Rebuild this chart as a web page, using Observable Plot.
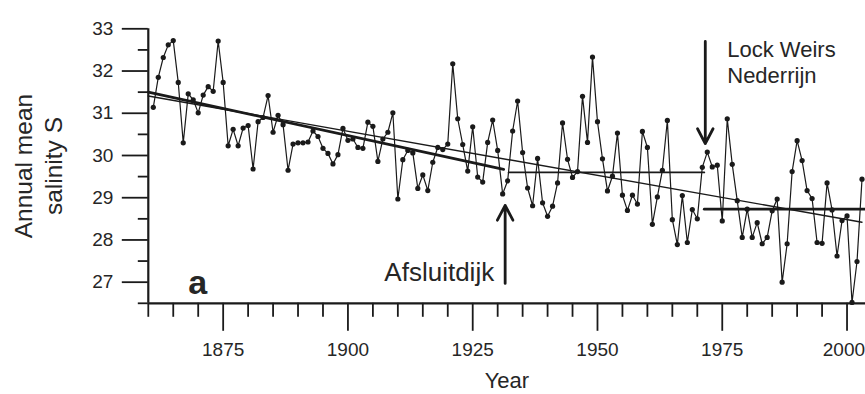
<!DOCTYPE html>
<html><head><meta charset="utf-8">
<script src="https://cdn.jsdelivr.net/npm/d3@7"></script>
<script src="https://cdn.jsdelivr.net/npm/@observablehq/plot@0.6"></script>
<style>html,body{margin:0;padding:0;background:#fff;overflow:hidden}</style>
</head><body><div id="chart"></div>
<script>
const firstYear = 1861;
const salinity = [
  31.14, 31.85, 32.32, 32.62, 32.72, 31.73, 30.30, 31.46, 31.32, 31.01,
  31.43, 31.63, 31.52, 32.71, 31.73, 30.23, 30.62, 30.23, 30.65, 30.71,
  29.68, 30.80, 30.90, 31.42, 30.55, 30.95, 30.73, 29.65, 30.27, 30.30,
  30.30, 30.32, 30.58, 30.45, 30.17, 30.05, 29.80, 30.02, 30.64, 30.36,
  30.39, 30.19, 30.17, 30.79, 30.69, 29.86, 30.39, 30.55, 31.01, 28.97,
  29.90, 30.12, 30.06, 29.22, 29.54, 29.17, 29.84, 30.19, 30.14, 30.27,
  32.17, 30.87, 30.26, 29.63, 30.68, 29.49, 29.37, 30.31, 30.84, 30.12,
  29.09, 29.40, 30.58, 31.29, 30.07, 29.23, 28.81, 29.93, 28.88, 28.56,
  28.80, 29.35, 30.77, 29.91, 29.48, 29.62, 31.40, 30.31, 32.33, 30.80,
  29.92, 29.16, 29.51, 30.53, 29.06, 28.70, 29.06, 28.85, 30.57, 30.19,
  28.37, 29.02, 29.65, 30.83, 28.48, 27.89, 29.05, 27.94, 28.72, 28.50,
  29.72, 30.08, 29.73, 29.77, 28.45, 30.87, 29.79, 28.93, 28.06, 28.73,
  28.06, 28.41, 27.91, 28.06, 28.69, 28.97, 27.00, 27.91, 29.62, 30.35,
  29.88, 29.17, 28.98, 27.94, 27.92, 29.35, 28.71, 27.62, 28.46, 28.57,
  26.52, 27.49, 29.44
];
const years = salinity.map((_, i) => firstYear + i);

// fitted lines / period means
const fitPreYears = [1860, 1931.2];
const fitPreValues = [31.50, 29.67];
const fitAllYears = [1860, 2003];
const fitAllValues = [31.41, 28.42];
const meanMidYears = [1932.2, 1971.4];
const meanMidValues = [29.60, 29.60];
const meanPostYears = [1971.4, 2003.7];
const meanPostValues = [28.73, 28.73];

// axes
const yearDomain = [1860, 2003.7];
const salDomain = [26.5, 33];
const majorYearTicks = [1875, 1900, 1925, 1950, 1975, 2000];
const minorYearTicks = [1860, 1865, 1870, 1880, 1885, 1890, 1895, 1905, 1910, 1915, 1920, 1930, 1935, 1940, 1945, 1955, 1960, 1965, 1970, 1980, 1985, 1990, 1995];
const majorSalTicks = [27, 28, 29, 30, 31, 32, 33];
const minorSalTicks = [26.5, 27.5, 28.5, 29.5, 30.5, 31.5, 32.5];

// annotations
const eventLabels = ["Afsluitdijk", "Lock Weirs\nNederrijn"];
const eventYears = [1931.5, 1971.6];
const arrowFrom = [26.97, 32.70];
const arrowTo = [28.82, 30.28];
const labelYears = [1929.3, 1976.0];
const labelValues = [27.02, 31.72];
const labelAnchors = ["end", "start"];
const panelLetter = "a";
const panelYear = 1868.0;
const panelValue = 26.73;

const series = years.map((year, i) => ({year, s: salinity[i]}));
const seg = (xs, ys) => xs.map((x, i) => ({x, y: ys[i]}));
const events = eventLabels.map((label, i) => ({
  label, year: eventYears[i], from: arrowFrom[i], to: arrowTo[i],
  lx: labelYears[i], ly: labelValues[i], anchor: labelAnchors[i]
}));
const lastTick = majorYearTicks[majorYearTicks.length - 1];

const ink = "#1a1a1a";
const textInk = "#262626";
const font = "Liberation Sans, Arial, Helvetica, sans-serif";

const chart = Plot.plot({
  width: 865,
  height: 394,
  marginLeft: 147.8,
  marginRight: 0,
  marginTop: 28.3,
  marginBottom: 91.2,
  style: {fontFamily: font, fontSize: "20px", color: ink, background: "white"},
  x: {domain: yearDomain},
  y: {domain: salDomain},
  marks: [
    // axes
    Plot.axisX({ticks: minorYearTicks, tickSize: 14, tickFormat: () => "", label: null, strokeWidth: 1.8}),
    Plot.axisX({ticks: majorYearTicks, tickSize: 28, tickFormat: () => "", label: null, strokeWidth: 1.8}),
    Plot.text(majorYearTicks, {filter: d => d !== lastTick, x: d => d, frameAnchor: "bottom", dy: 39.5, lineAnchor: "top", text: d => String(d), fontSize: 19, fill: textInk}),
    Plot.text(majorYearTicks, {filter: d => d === lastTick, x: d => d, frameAnchor: "bottom", dy: 39.5, dx: 18, lineAnchor: "top", textAnchor: "end", text: d => String(d), fontSize: 19, fill: textInk}),
    Plot.axisY({ticks: minorSalTicks, tickSize: 10, tickFormat: () => "", label: null, strokeWidth: 1.8}),
    Plot.axisY({ticks: majorSalTicks, tickSize: 26, tickPadding: 9, tickFormat: d => String(d), label: null, strokeWidth: 1.8, fontSize: 19, fill: textInk}),
    Plot.ruleY([salDomain[0]], {stroke: ink, strokeWidth: 2.2}),
    Plot.ruleX([yearDomain[0]], {y1: salDomain[0], y2: salDomain[1], stroke: ink, strokeWidth: 2.2}),
    Plot.text(["Year"], {frameAnchor: "bottom", dy: 84.5, lineAnchor: "bottom", fontSize: 22, fill: textInk}),
    Plot.text(["Annual mean\nsalinity S"], {frameAnchor: "left", dx: -86, rotate: -90, textAnchor: "middle", lineAnchor: "bottom", lineHeight: 1.22, fontSize: 24.5, fill: textInk}),
    // fitted lines
    Plot.line(seg(fitAllYears, fitAllValues), {x: "x", y: "y", stroke: ink, strokeWidth: 1.4}),
    Plot.line(seg(fitPreYears, fitPreValues), {x: "x", y: "y", stroke: ink, strokeWidth: 2.8}),
    Plot.line(seg(meanMidYears, meanMidValues), {x: "x", y: "y", stroke: ink, strokeWidth: 1.8}),
    Plot.line(seg(meanPostYears, meanPostValues), {x: "x", y: "y", stroke: ink, strokeWidth: 2.8}),
    // data
    Plot.line(series, {x: "year", y: "s", stroke: ink, strokeWidth: 1.2}),
    Plot.dot(series, {x: "year", y: "s", r: 2.6, fill: ink, stroke: null}),
    // annotations
    Plot.arrow(events, {x1: "year", x2: "year", y1: "from", y2: "to", stroke: ink, strokeWidth: 2.8, headLength: 9, headAngle: 55}),
    Plot.text(events, {filter: d => d.anchor === "start", x: "lx", y: "ly", text: "label", fontSize: 22, textAnchor: "start", lineAnchor: "bottom", lineHeight: 1.16, fill: textInk}),
    Plot.text(events, {filter: d => d.anchor === "end", x: "lx", y: "ly", text: "label", fontSize: 26, textAnchor: "end", lineAnchor: "bottom", fill: textInk}),
    Plot.text([panelLetter], {x: () => panelYear, y: () => panelValue, textAnchor: "start", lineAnchor: "bottom", fontSize: 34, fontWeight: "bold", fill: textInk})
  ]
});
document.getElementById("chart").appendChild(chart);
</script>
</body></html>
